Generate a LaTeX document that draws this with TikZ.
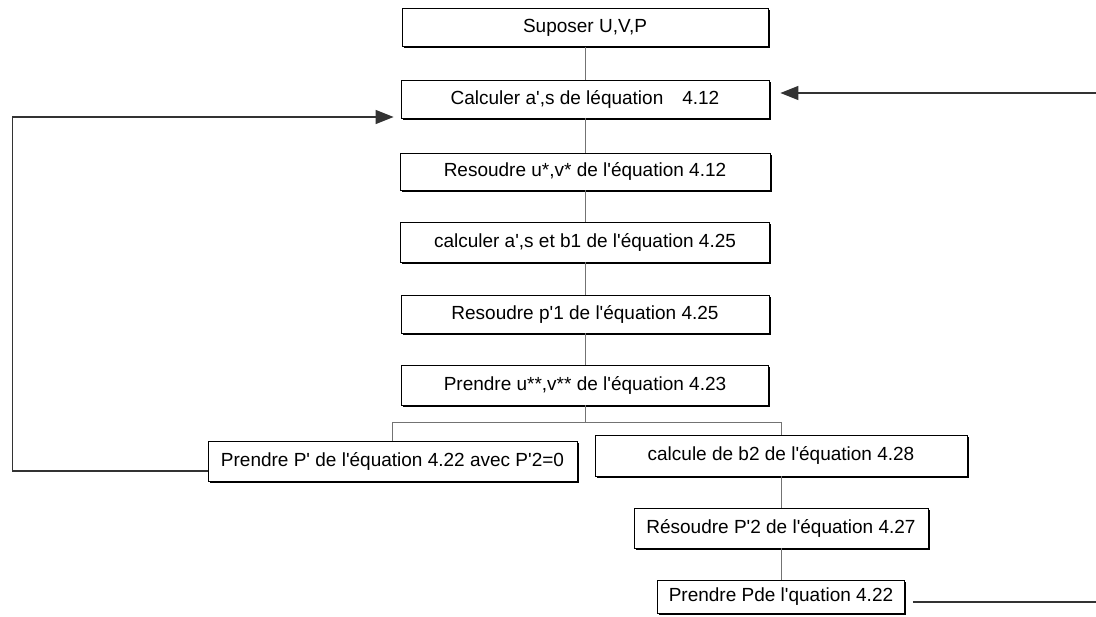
\documentclass[tikz,border=0pt]{standalone}
\usepackage{fontspec}
\setmainfont{Liberation Sans}[Ligatures=TeXOff]
\usetikzlibrary{arrows.meta,shadows}
\tikzstyle{stepbox} = [draw=black, fill=white, thick, rectangle,
    minimum height=38pt, inner sep=0pt, font=\fontsize{19}{21}\selectfont,
    drop shadow={shadow xshift=1.8pt, shadow yshift=-1.8pt, fill=black, opacity=1}]
\tikzstyle{link} = [draw=black!55, line width=0.8pt]
\tikzstyle{loopline} = [draw=black!80, line width=1.3pt]
\tikzstyle{backarrow} = [-{Triangle[length=18pt,width=14pt]}]

\begin{document}
\begin{tikzpicture}[x=1pt,y=-1pt]
\useasboundingbox (0,0) rectangle (1096,617);
% main column
\node[stepbox, minimum width=366pt] (suposer) at (585,27.5) {Suposer U,V,P};
\node[stepbox, minimum width=368pt] (calcA) at (585,99) {Calculer a',s de léquation\quad 4.12};
\node[stepbox, minimum width=370pt, minimum height=37pt] (resUV) at (585,171.5) {Resoudre u*,v* de l'équation 4.12};
\node[stepbox, minimum width=369pt, minimum height=40pt] (calcB) at (585,242) {calculer a',s et b1 de l'équation 4.25};
\node[stepbox, minimum width=368pt] (resP) at (585,314) {Resoudre p'1 de l'équation 4.25};
\node[stepbox, minimum width=367pt, minimum height=40pt] (prendreU) at (585,385) {Prendre u**,v** de l'équation 4.23};
% two branches
\node[stepbox, minimum width=369pt, minimum height=40pt] (prendreP) at (392.5,461) {Prendre P' de l'équation 4.22 avec P'2=0};
\node[stepbox, minimum width=372pt, minimum height=41pt] (calcBdeux) at (781,455.5) {calcule de b2 de l'équation 4.28};
\node[stepbox, minimum width=294pt, minimum height=40pt] (resPdeux) at (781,528) {Résoudre P'2 de l'équation 4.27};
\node[stepbox, minimum width=247pt, minimum height=33pt] (pfinal) at (781,596.5) {Prendre Pde l'quation 4.22};

\draw[link] (suposer) -- (calcA);
\draw[link] (calcA) -- (resUV);
\draw[link] (resUV) -- (calcB);
\draw[link] (calcB) -- (resP);
\draw[link] (resP) -- (prendreU);
\draw[link] (prendreU.south) -- ++(0,17) coordinate (fork);
\draw[link] (fork) -| (prendreP.north);
\draw[link] (fork) -| (calcBdeux.north);
\draw[link] (calcBdeux) -- (resPdeux);
\draw[link] (resPdeux) -- (pfinal);

% loops back
\draw[loopline, backarrow] ([yshift=-10pt]prendreP.west) -- ++(-195,0)
    |- ([xshift=-7pt,yshift=-18pt]calcA.west);
\draw[loopline, backarrow] ([xshift=8pt,yshift=-5.5pt]pfinal.east) -- ++(185,0)
    |- ([xshift=11pt,yshift=6pt]calcA.east);
\end{tikzpicture}
\end{document}
